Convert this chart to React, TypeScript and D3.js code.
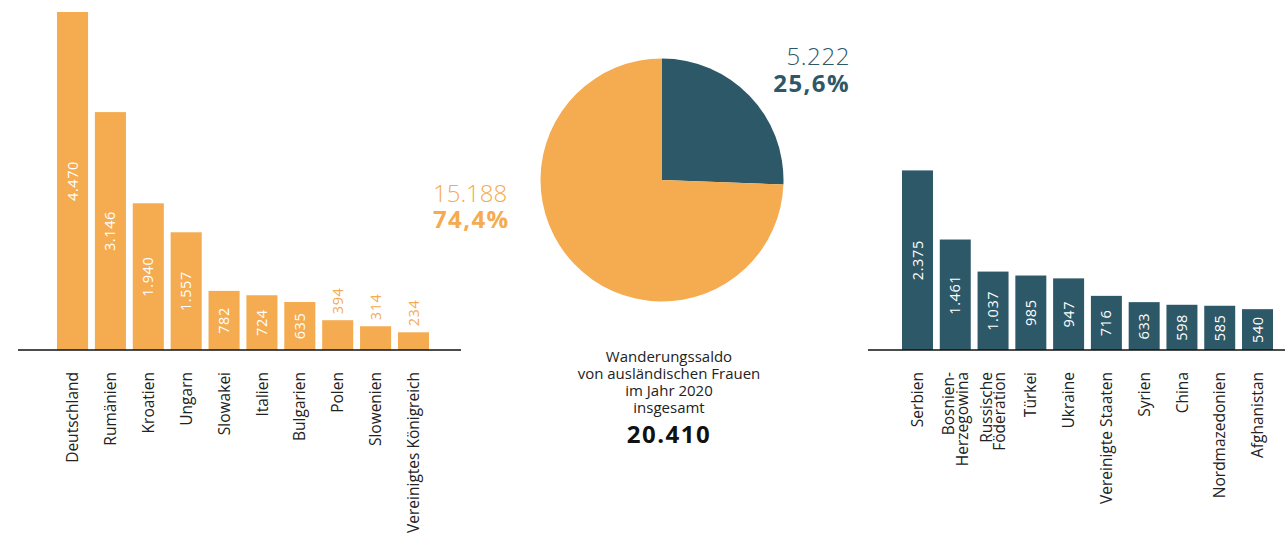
import React from "react";
import * as d3 from "d3";

const euCountries = ["Deutschland", "Rumänien", "Kroatien", "Ungarn", "Slowakei", "Italien", "Bulgarien", "Polen", "Slowenien", "Vereinigtes Königreich"];
const euValues = [4470, 3146, 1940, 1557, 782, 724, 635, 394, 314, 234];

const nonEuCountries = ["Serbien", "Bosnien-|Herzegowina", "Russische|Föderation", "Türkei", "Ukraine", "Vereinigte Staaten", "Syrien", "China", "Nordmazedonien", "Afghanistan"];
const nonEuValues = [2375, 1461, 1037, 985, 947, 716, 633, 598, 585, 540];

const pieLabels = ["Drittstaaten", "EU"];
const pieValues = [5222, 15188];
const pieShares = ["25,6%", "74,4%"];
const totalValue = 20410;
const centerLines = ["Wanderungssaldo", "von ausländischen Frauen", "im Jahr 2020", "insgesamt"];

const ORANGE = "#F5AB50";
const TEAL = "#2D5868";
const TEXT = "#222222";
const FONT = "'Open Sans', 'Noto Sans', sans-serif";

const fmt = (v: number) => d3.format(",")(v).replace(/,/g, ".");

const BASE = 350;
const y = d3.scaleLinear().domain([0, 4470]).range([BASE, 12]);

function BarChart({ cats, vals, color, x0, x1, axisX0, axisX1, outsideBelow }: any) {
  const x = d3.scaleBand<string>().domain(cats).range([x0, x1]).paddingInner(0.18).paddingOuter(0);
  return (
    <g>
      {cats.map((c: string, i: number) => {
        const v = vals[i];
        const bx = x(c)!;
        const bw = x.bandwidth();
        const top = y(v);
        const cx = bx + bw / 2;
        const outside = v < outsideBelow;
        const lines = c.split("|");
        return (
          <g key={c}>
            <rect x={bx} y={top} width={bw} height={BASE - top} fill={color} />
            {outside ? (
              <text transform={`translate(${cx},${top - 6}) rotate(-90)`} dy="0.35em" textAnchor="start" fill={color} fontSize={14.5} fontWeight={500} letterSpacing={0.6} fontFamily={FONT}>
                {fmt(v)}
              </text>
            ) : (
              <text transform={`translate(${cx},${(top + BASE) / 2}) rotate(-90)`} dy="0.35em" textAnchor="middle" fill="#fff" fontSize={14.5} fontWeight={500} letterSpacing={0.6} fontFamily={FONT}>
                {fmt(v)}
              </text>
            )}
            {lines.map((l, j) => (
              <text key={j} transform={`translate(${cx + (j - (lines.length - 1) / 2) * 13.5},372) rotate(-90)`} dy="0.36em" textAnchor="end" fill={TEXT} fontSize={15.5} fontFamily={FONT}>
                {l}
              </text>
            ))}
          </g>
        );
      })}
      <line x1={axisX0} x2={axisX1} y1={BASE} y2={BASE} stroke="#111" strokeWidth={1.5} />
    </g>
  );
}

export default function App() {
  const pie = d3.pie<number>().sort(null).startAngle(0).endAngle(2 * Math.PI)(pieValues);
  const arc = d3.arc<d3.PieArcDatum<number>>().innerRadius(0).outerRadius(121.5);
  const pieColors = [TEAL, ORANGE];
  return (
    <svg width={1285} height={538} style={{ position: "absolute", left: 0, top: 0, background: "#fff" }}>
      <BarChart cats={euCountries} vals={euValues} color={ORANGE} x0={57} x1={429} axisX0={18} axisX1={461} outsideBelow={500} />
      <BarChart cats={nonEuCountries} vals={nonEuValues} color={TEAL} x0={902} x1={1273} axisX0={868} axisX1={1285} outsideBelow={500} />
      <g transform="translate(662,180)">
        {pie.map((p, i) => (
          <path key={pieLabels[i]} d={arc(p)!} fill={pieColors[i]} />
        ))}
      </g>
      <text x={850} y={65} textAnchor="end" fill={TEAL} fontSize={24} fontWeight={300} letterSpacing={0.6} fontFamily={FONT}>{fmt(pieValues[0])}</text>
      <text x={850} y={92} textAnchor="end" fill={TEAL} fontSize={24} fontWeight={700} letterSpacing={1.4} fontFamily={FONT}>{pieShares[0]}</text>
      <text x={433} y={202} textAnchor="start" fill={ORANGE} fontSize={24} fontWeight={300} fontFamily={FONT}>{fmt(pieValues[1])}</text>
      <text x={433} y={228} textAnchor="start" fill={ORANGE} fontSize={24} fontWeight={700} letterSpacing={1.4} fontFamily={FONT}>{pieShares[1]}</text>
      {centerLines.map((l, i) => (
        <text key={l} x={669} y={362 + i * 17} textAnchor="middle" fill={TEXT} fontSize={15} fontFamily={FONT}>{l}</text>
      ))}
      <text x={669} y={443} textAnchor="middle" fill="#111" fontSize={24} fontWeight={700} letterSpacing={1.5} fontFamily={FONT}>{fmt(totalValue)}</text>
    </svg>
  );
}
